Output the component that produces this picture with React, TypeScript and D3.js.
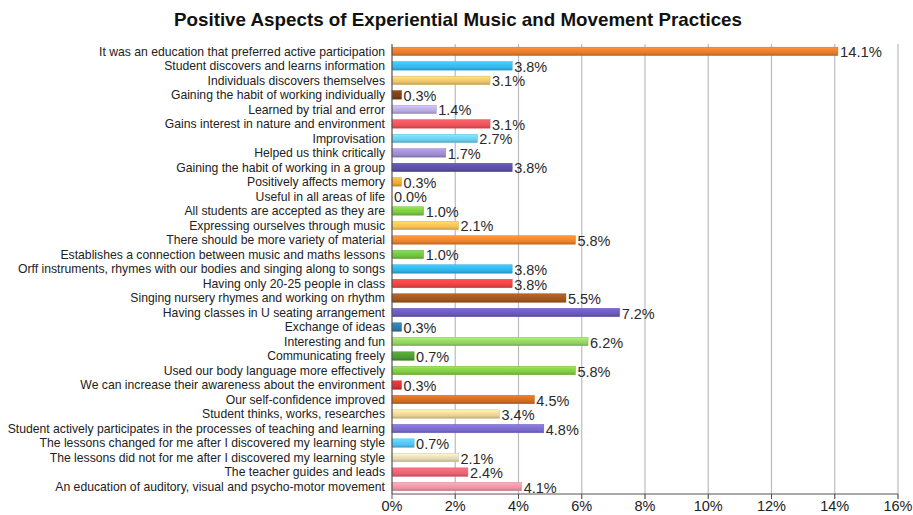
import React from "react";
import * as d3 from "d3";

const title = "Positive Aspects of Experiential Music and Movement Practices";

const categories = [
  "It was an education that preferred active participation",
  "Student discovers and learns information",
  "Individuals discovers themselves",
  "Gaining the habit of working individually",
  "Learned by trial and error",
  "Gains interest in nature and environment",
  "Improvisation",
  "Helped us think critically",
  "Gaining the habit of working in a group",
  "Positively affects memory",
  "Useful in all areas of life",
  "All students are accepted as they are",
  "Expressing ourselves through music",
  "There should be more variety of material",
  "Establishes a connection between music and maths lessons",
  "Orff instruments, rhymes with our bodies and singing along to songs",
  "Having only 20-25 people in class",
  "Singing nursery rhymes and working on rhythm",
  "Having classes in U seating arrangement",
  "Exchange of ideas",
  "Interesting and fun",
  "Communicating freely",
  "Used our body language more effectively",
  "We can increase their awareness about the environment",
  "Our self-confidence improved",
  "Student thinks, works, researches",
  "Student actively participates in the processes of teaching and learning",
  "The lessons changed for me after I discovered my learning style",
  "The lessons did not for me after I discovered my learning style",
  "The teacher guides and leads",
  "An education of auditory, visual and psycho-motor movement",
];

const values = [
  14.1, 3.8, 3.1, 0.3, 1.4, 3.1, 2.7, 1.7, 3.8, 0.3, 0.0, 1.0, 2.1, 5.8, 1.0,
  3.8, 3.8, 5.5, 7.2, 0.3, 6.2, 0.7, 5.8, 0.3, 4.5, 3.4, 4.8, 0.7, 2.1, 2.4, 4.1,
];

const barColors = [
  "#e27a2c", "#35b5e6", "#e9c26c", "#7b3f14", "#b6aadd", "#e9525b", "#6dcbe8",
  "#9c8bcd", "#5a4ea6", "#e9a733", "#999999", "#7cc743", "#f1c052", "#e8822f",
  "#71c043", "#32b1e6", "#e84343", "#a0571f", "#6a59b8", "#2b7aa7", "#92d062",
  "#4b9a31", "#80c842", "#d23232", "#d06b22", "#e9d193", "#7a6bc8", "#52c1ef",
  "#e0d5b2", "#e86171", "#e993a2",
];

const xTicks = [0, 2, 4, 6, 8, 10, 12, 14, 16];

const W = 913;
const H = 515;
const margin = { left: 392, right: 15, top: 44, bottom: 21 };

export default function App() {
  const x = d3
    .scaleLinear()
    .domain([0, 16])
    .range([margin.left, W - margin.right]);
  const y = d3
    .scaleBand<string>()
    .domain(categories)
    .range([margin.top, H - margin.bottom])
    .paddingInner(0.42)
    .paddingOuter(0.22);
  const axisY = H - margin.bottom;
  const font = "'Liberation Sans', Arial, Helvetica, sans-serif";

  return (
    <svg
      width={W}
      height={H}
      style={{ position: "absolute", left: 0, top: 0, background: "#fff" }}
      fontFamily={font}
    >
      <defs>
        {barColors.map((c, i) => {
          const base = d3.color(c)!;
          return (
            <linearGradient key={i} id={`g${i}`} x1="0" y1="0" x2="0" y2="1">
              <stop offset="0%" stopColor={base.brighter(0.5).toString()} />
              <stop offset="35%" stopColor={base.brighter(0.2).toString()} />
              <stop offset="70%" stopColor={c} />
              <stop offset="100%" stopColor={base.darker(0.6).toString()} />
            </linearGradient>
          );
        })}
      </defs>

      <text
        x={458}
        y={26}
        textAnchor="middle"
        fontSize={18.5}
        fontWeight="bold"
        fill="#111"
        textLength={568}
        lengthAdjust="spacingAndGlyphs"
      >
        {title}
      </text>

      {/* vertical gridlines */}
      {xTicks.slice(1).map((t) => (
        <line
          key={t}
          x1={x(t)}
          x2={x(t)}
          y1={margin.top}
          y2={axisY + 5}
          stroke="#b9bcc0"
          strokeWidth={1.2}
        />
      ))}

      {/* bars */}
      {categories.map((c, i) => (
        <rect
          key={c}
          x={x(0)}
          y={y(c)!}
          width={Math.max(0, x(values[i]) - x(0))}
          height={y.bandwidth()}
          fill={`url(#g${i})`}
          stroke={d3.color(barColors[i])!.darker(0.3).toString()}
          strokeWidth={0.5}
        />
      ))}

      {/* value labels */}
      {categories.map((c, i) => (
        <text
          key={c}
          x={x(values[i]) + 2}
          y={y(c)! + y.bandwidth() / 2 + 6}
          fontSize={14}
          fill="#2a2a2a"
          textLength={values[i] >= 10 ? 42 : 33}
          lengthAdjust="spacingAndGlyphs"
        >
          {values[i].toFixed(1)}%
        </text>
      ))}

      {/* category labels */}
      {categories.map((c) => (
        <text
          key={c}
          x={margin.left - 7}
          y={y(c)! + y.bandwidth() / 2 + 4.3}
          textAnchor="end"
          fontSize={12.2}
          fill="#222"
        >
          {c}
        </text>
      ))}

      {/* axes */}
      <line
        x1={x(0)}
        x2={x(0)}
        y1={margin.top}
        y2={axisY}
        stroke="#555"
        strokeWidth={1.2}
      />
      <line
        x1={x(0)}
        x2={x(16)}
        y1={axisY}
        y2={axisY}
        stroke="#555"
        strokeWidth={1.2}
      />
      {xTicks.map((t) => (
        <g key={t}>
          <line
            x1={x(t)}
            x2={x(t)}
            y1={axisY}
            y2={axisY + 5}
            stroke="#555"
            strokeWidth={1}
          />
          <text
            x={x(t)}
            y={axisY + 17}
            textAnchor="middle"
            fontSize={14.5}
            fill="#222"
          >
            {t}%
          </text>
        </g>
      ))}
    </svg>
  );
}
